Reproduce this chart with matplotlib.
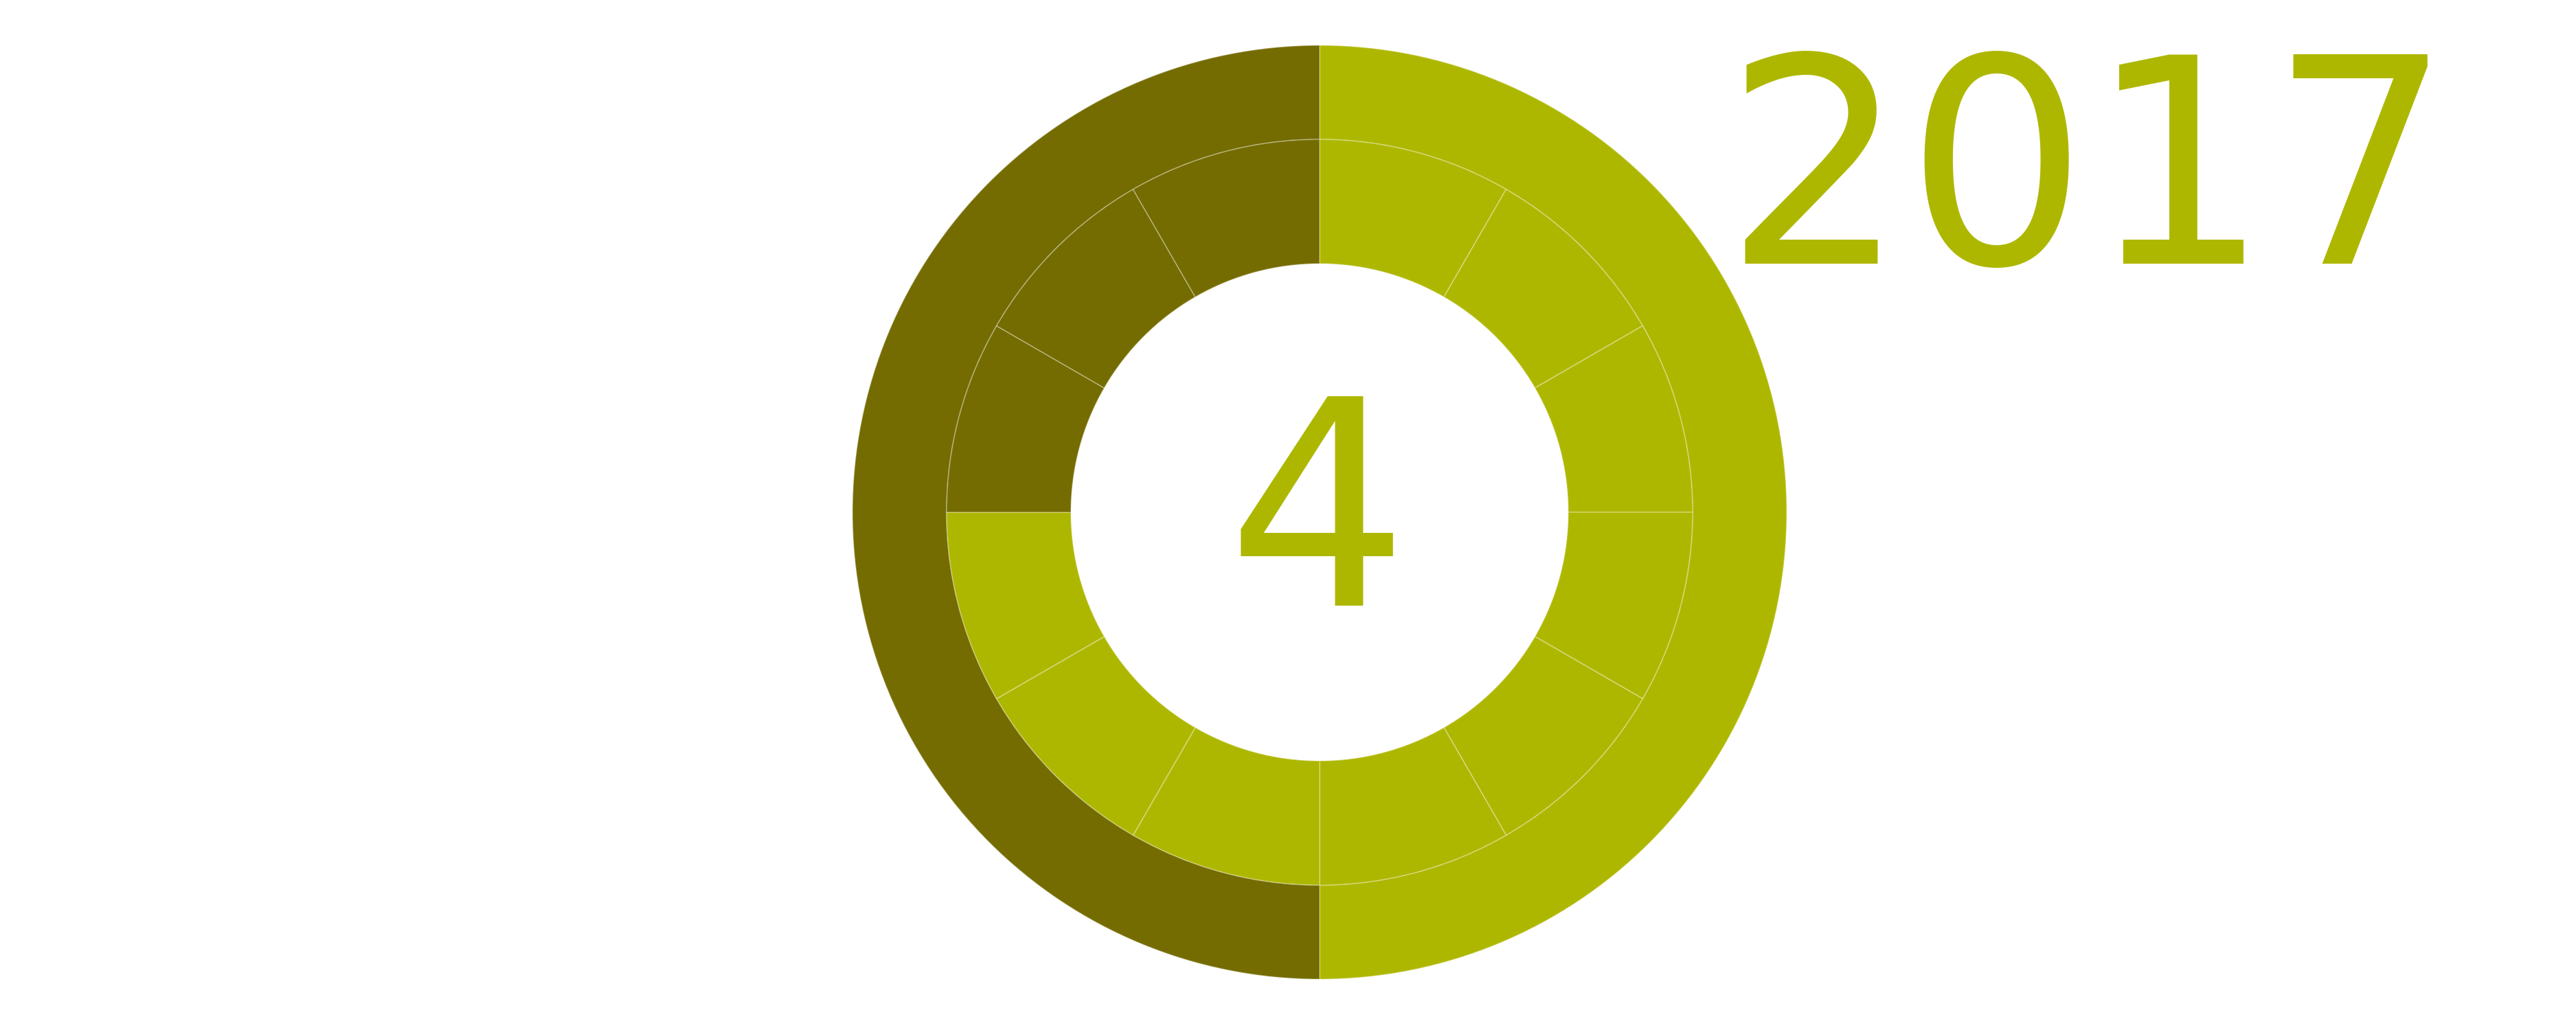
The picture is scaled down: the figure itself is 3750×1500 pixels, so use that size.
import matplotlib

matplotlib.use("Agg")
import matplotlib.pyplot as plt

# data
YEAR_LABEL = "2017"
CENTER_VALUE = "4"
OUTER_VALUES = [1, 1]
OUTER_COLORS = ["#aeb700", "#746c00"]
INNER_VALUES = [1] * 12
INNER_COLORS = ["#aeb700"] * 9 + ["#746c00"] * 3

LIGHT = "#aeb700"
EDGE = (1.0, 1.0, 1.0, 0.3)

W, H, DPI = 3750, 1500, 150
CX, CY, R = 1921, 746, 680  # pixel centre (from top) and outer radius

plt.rcParams["font.family"] = "DejaVu Sans"

fig = plt.figure(figsize=(W / DPI, H / DPI), dpi=DPI)
ax = fig.add_axes([(CX - R) / W, (H - CY - R) / H, 2 * R / W, 2 * R / H])

ax.pie(
    OUTER_VALUES,
    colors=OUTER_COLORS,
    radius=1.0,
    startangle=90,
    counterclock=False,
    wedgeprops={"width": 137 / R, "edgecolor": EDGE, "linewidth": 0.8},
)
ax.pie(
    INNER_VALUES,
    colors=INNER_COLORS,
    radius=543 / R,
    startangle=90,
    counterclock=False,
    wedgeprops={"width": 181 / R, "edgecolor": EDGE, "linewidth": 0.8},
)
ax.set_xlim(-1, 1)
ax.set_ylim(-1, 1)
ax.set_aspect("equal")
ax.axis("off")

ax.text(-2.5 / R, (CY - 882) / R, CENTER_VALUE, ha="center", va="baseline",
        fontsize=200, color=LIGHT)
fig.text(2510 / W, (H - 384) / H, YEAR_LABEL, ha="left", va="baseline",
         fontsize=200, color=LIGHT)

fig.savefig("out.png", dpi=DPI, facecolor="white")
